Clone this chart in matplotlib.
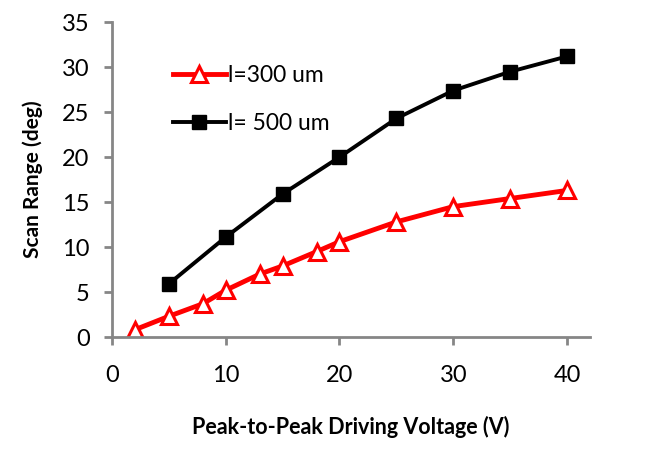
import matplotlib.pyplot as plt

plt.rcParams['font.family'] = ['Lato', 'DejaVu Sans']

# data
v_300 = [2, 5, 8, 10, 13, 15, 18, 20, 25, 30, 35, 40]
scan_300 = [0.8, 2.3, 3.7, 5.2, 7.0, 7.9, 9.5, 10.6, 12.8, 14.5, 15.4, 16.3]
v_500 = [5, 10, 15, 20, 25, 30, 35, 40]
scan_500 = [5.9, 11.1, 15.9, 20.0, 24.3, 27.4, 29.5, 31.2]

fig = plt.figure(figsize=(6.54, 4.53), dpi=100)
ax = fig.add_axes([0.171, 0.256, 0.731, 0.695])

ax.plot(v_300, scan_300, color='#ff0000', lw=3.5, marker='^', ms=11,
        mfc='white', mec='#ff0000', mew=2.2, label='l=300 um')
ax.plot(v_500, scan_500, color='black', lw=2.8, marker='s', ms=10,
        mfc='black', mec='black', label='l= 500 um')

ax.set_xlim(0, 42)
ax.set_ylim(0, 35)
ax.set_xticks([0, 10, 20, 30, 40])
ax.set_yticks(range(0, 36, 5))

for s in ['top', 'right']:
    ax.spines[s].set_visible(False)
for s in ['left', 'bottom']:
    ax.spines[s].set_color('#868686')
    ax.spines[s].set_linewidth(2)
ax.tick_params(colors='#868686', width=2, length=6, labelsize=17, labelcolor='black')
ax.tick_params(axis='x', pad=14)
ax.tick_params(axis='y', pad=10)

ax.set_xlabel('Peak-to-Peak Driving Voltage (V)', fontsize=15.5, fontweight='bold', labelpad=22)
ax.set_ylabel('Scan Range (deg)', fontsize=15, fontweight='bold', labelpad=14)

ax.legend(loc='upper left', bbox_to_anchor=(0.085, 0.93), frameon=False, fontsize=16.5,
          handlelength=2.3, handletextpad=0.1, labelspacing=1.2)

fig.savefig('out.png', dpi=100)
